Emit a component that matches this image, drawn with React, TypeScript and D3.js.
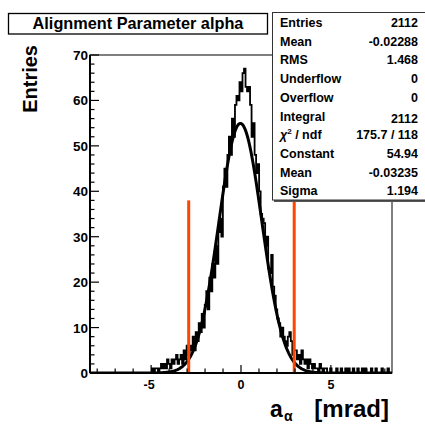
import React from "react";
import * as d3 from "d3";

const xMin = -8.4;
const xMax = 8.4;
const nBins = 200;
const yMax = 70;

// bin contents (200 bins from -8.4 to 8.4)
const counts: number[] = [
  0, 0, 0, 0, 0, 0, 0, 0, 0, 0,
  0, 0, 0, 0, 0, 0, 0, 0, 0, 0,
  0, 0, 0, 0, 0, 0, 0, 0, 0, 0,
  0, 0, 0, 0, 0, 0, 0, 0, 0, 0,
  0, 1, 0, 1, 1, 0, 1, 2, 1, 2,
  1, 3, 2, 1, 3, 2, 3, 4, 2, 3,
  4, 2, 5, 3, 6, 4, 6, 5, 8, 5,
  9, 7, 11, 9, 13, 10, 15, 18, 14, 21,
  18, 24, 21, 28, 24, 31, 34, 30, 41, 45,
  41, 48, 52, 48, 56, 52, 59, 61, 60, 64,
  62, 66, 67, 63, 62, 63, 59, 52, 55, 48,
  44, 46, 40, 35, 34, 33, 28, 30, 23, 22,
  26, 19, 17, 14, 12, 11, 8, 10, 8, 7,
  6, 8, 9, 7, 4, 5, 5, 3, 4, 2,
  5, 3, 2, 3, 1, 3, 2, 1, 2, 1,
  1, 0, 2, 1, 0, 1, 1, 0, 0, 1,
  0, 0, 0, 1, 0, 0, 1, 0, 0, 1,
  0, 1, 0, 0, 1, 0, 0, 1, 0, 0,
  1, 0, 1, 0, 0, 0, 1, 0, 0, 1,
  0, 0, 0, 1, 0, 0, 0, 1, 0, 0,
];

const fitConstant = 54.94;
const fitMean = -0.03235;
const fitSigma = 1.194;

const cutLines = [-2.91, 2.96];
const cutHeight = 38;

const xTicksMajor = [-5, 0, 5];
const xTicksMinor = [-8, -7, -6, -4, -3, -2, -1, 1, 2, 3, 4, 6, 7, 8];
const yTicksMajor = [0, 10, 20, 30, 40, 50, 60, 70];
const yTicksMinor = [2, 4, 6, 8, 12, 14, 16, 18, 22, 24, 26, 28, 32, 34, 36, 38, 42, 44, 46, 48, 52, 54, 56, 58, 62, 64, 66, 68];

const titleText = "Alignment Parameter alpha";
const statLabels = ["Entries", "Mean", "RMS", "Underflow", "Overflow", "Integral", "χ2 / ndf", "Constant", "Mean", "Sigma"];
const statValues = ["2112", "-0.02288", "1.468", "0", "0", "2112", "175.7 / 118", "54.94", "-0.03235", "1.194"];

const FONT = "'Liberation Sans', Arial, Helvetica, sans-serif";

export default function App() {
  const L = 90, R = 392, T = 55, B = 373;
  const x = d3.scaleLinear().domain([xMin, xMax]).range([L, R]);
  const y = d3.scaleLinear().domain([0, yMax]).range([B, T]);
  const bw = (xMax - xMin) / nBins;

  const pts: [number, number][] = counts.map((c, i) => [xMin + i * bw, c]);
  pts.push([xMax, counts[counts.length - 1]]);
  const histPath = d3
    .line<[number, number]>()
    .x((d) => x(d[0]))
    .y((d) => y(d[1]))
    .curve(d3.curveStepAfter)(pts) as string;

  const fitPts: [number, number][] = d3.range(0, 401).map((k) => {
    const xv = xMin + (k * (xMax - xMin)) / 400;
    return [xv, fitConstant * Math.exp(-((xv - fitMean) ** 2) / (2 * fitSigma * fitSigma))];
  });
  const fitPath = d3
    .line<[number, number]>()
    .x((d) => x(d[0]))
    .y((d) => y(Math.min(d[1], yMax)))
    .curve(d3.curveLinear)(fitPts) as string;

  const rowY0 = 27;
  const rowDy = 18.7;

  return (
    <svg
      width={425}
      height={425}
      viewBox="0 0 425 425"
      style={{ position: "absolute", left: 0, top: 0, background: "#fff" }}
      fontFamily={FONT}
    >
      <rect x={0} y={0} width={425} height={425} fill="#fff" />
      <defs>
        <clipPath id="frameClip">
          <rect x={L} y={T} width={R - L} height={B - T} />
        </clipPath>
      </defs>

      {/* histogram */}
      <g clipPath="url(#frameClip)">
        <path d={histPath} fill="none" stroke="#000" strokeWidth={1.8} />
        <path d={fitPath} fill="none" stroke="#000" strokeWidth={3} />
      </g>

      {/* cut lines */}
      {cutLines.map((c, i) => (
        <line key={i} x1={x(c)} x2={x(c)} y1={y(0)} y2={y(cutHeight)} stroke="#ff4500" strokeWidth={3} />
      ))}

      {/* frame */}
      <rect x={L} y={T} width={R - L} height={B - T} fill="none" stroke="#000" strokeWidth={1} />
      <line x1={L} x2={R} y1={B} y2={B} stroke="#000" strokeWidth={2} />
      <line x1={L} x2={L} y1={T} y2={B} stroke="#000" strokeWidth={2} />

      {/* x ticks */}
      {xTicksMajor.map((t) => (
        <line key={"xM" + t} x1={x(t)} x2={x(t)} y1={B} y2={B - 8} stroke="#000" strokeWidth={1.2} />
      ))}
      {xTicksMinor.map((t) => (
        <line key={"xm" + t} x1={x(t)} x2={x(t)} y1={B} y2={B - 4.5} stroke="#000" strokeWidth={1.2} />
      ))}
      {xTicksMajor.map((t) => (
        <text key={"xl" + t} x={x(t) - (t < 0 ? 2 : 0)} y={389} fontSize={12.5} fontWeight="bold" textAnchor="middle">
          {t}
        </text>
      ))}

      {/* y ticks */}
      {yTicksMajor.map((t) => (
        <line key={"yM" + t} x1={L} x2={L + 9} y1={y(t)} y2={y(t)} stroke="#000" strokeWidth={1.2} />
      ))}
      {yTicksMinor.map((t) => (
        <line key={"ym" + t} x1={L} x2={L + 4.5} y1={y(t)} y2={y(t)} stroke="#000" strokeWidth={1.2} />
      ))}
      {yTicksMajor.map((t) => (
        <text key={"yl" + t} x={88} y={y(t) + 5} fontSize={13.5} fontWeight="bold" textAnchor="end">
          {t}
        </text>
      ))}

      {/* axis titles */}
      <text transform="translate(37,45) rotate(-90)" fontSize={20} fontWeight="bold" textAnchor="end">
        Entries
      </text>
      <text x={270} y={417} fontSize={23} fontWeight="bold">a</text>
      <text x={284} y={421} fontSize={14} fontWeight="bold">α</text>
      <text x={389} y={417} fontSize={24} fontWeight="bold" textAnchor="end">[mrad]</text>

      {/* title box */}
      <rect x={8.5} y={13.5} width={259} height={20.5} fill="#fff" stroke="#000" strokeWidth={1.3} />
      <text x={138} y={29} fontSize={16.3} fontWeight="bold" textAnchor="middle">
        {titleText}
      </text>

      {/* stats box */}
      <rect x={274} y={14} width={154} height={188} fill="#555" />
      <rect x={272.5} y={12.5} width={154} height={187.5} fill="#fff" stroke="#333" strokeWidth={1} />
      {statLabels.map((lab, i) => (
        <text key={"sl" + i} x={280} y={rowY0 + i * rowDy} fontSize={12.5} fontWeight="bold">
          {lab === "χ2 / ndf" ? (
            <>
              <tspan fontStyle="italic">χ</tspan>
              <tspan fontSize={8} dy={-5}>2</tspan>
              <tspan dy={5}> / ndf</tspan>
            </>
          ) : (
            lab
          )}
        </text>
      ))}
      {statValues.map((v, i) => (
        <text key={"sv" + i} x={418} y={rowY0 + i * rowDy + (i === 5 ? 2 : 0)} fontSize={12.5} fontWeight="bold" textAnchor="end">
          {v}
        </text>
      ))}
    </svg>
  );
}
